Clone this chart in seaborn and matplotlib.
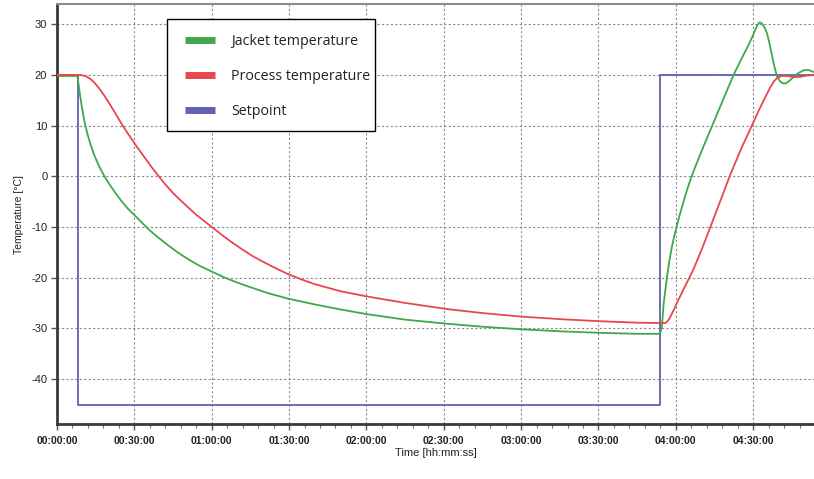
import numpy as np
import pandas as pd
import matplotlib
matplotlib.use("Agg")
import matplotlib.pyplot as plt
import seaborn as sns
from matplotlib.ticker import MultipleLocator, FuncFormatter
from matplotlib.patches import Rectangle

# Values (time in minutes, temperature in degC)
jacket_time = [0, 7.9, 8.2, 8.6, 9.0, 9.6, 10.3, 11, 12, 13, 14, 15, 16.5, 18.6, 20.5, 22.5,
               25, 27.5, 30.3, 33, 36, 39.3, 43, 47, 51, 55, 60, 65, 70, 75, 82, 90, 100,
               110, 120, 135, 151, 165, 180, 195, 210, 225, 233.9, 234.6, 235.3, 236.6,
               237.5, 238.5, 239.5, 240.5, 241.7, 243.0, 244.3, 245.6, 247.2, 249, 251,
               254.7, 258.5, 262.4, 265, 267.6, 269.5, 270.5, 271.3, 272, 272.6, 273.5,
               274.5, 275.4, 276.3, 277.3, 278.3, 279.2, 280.3, 281.5, 282.5, 283.5, 284.6,
               285.7, 287.6, 289.6, 291.3, 292.9, 294]
jacket_temp = [19.8, 19.8, 18.8, 17.2, 15.8, 13.8, 11.8, 10.0, 8.0, 6.3, 4.8, 3.5, 1.8, -0.2,
               -1.7, -3.2, -4.9, -6.4, -7.8, -9.2, -10.7, -12.1, -13.6, -15.1, -16.4, -17.6,
               -18.8, -20.0, -21.0, -21.9, -23.1, -24.2, -25.3, -26.3, -27.2, -28.3, -29.1,
               -29.7, -30.2, -30.6, -30.9, -31.1, -31.1, -29.7, -25.1, -19.8, -16.7, -13.9,
               -11.6, -9.6, -7.3, -5.0, -2.8, -0.8, 1.4, 3.7, 6.2, 10.7, 15.3, 20.0, 22.7,
               25.3, 27.3, 28.5, 29.5, 30.1, 30.4, 30.1, 29.3, 28.2, 26.3, 23.9, 21.5, 19.8,
               18.8, 18.35, 18.3, 18.6, 19.1, 19.6, 20.4, 20.9, 21.0, 20.7, 20.5]

process_time = [0, 8.9, 11, 13, 15, 17, 19, 21, 23, 25, 27, 29, 31, 33, 35, 37, 39.3, 42, 45,
                48, 51, 54, 57, 60, 64, 68, 72, 76, 80, 85, 90, 95, 100, 105, 110, 115, 120,
                128, 135, 143, 151, 165, 180, 195, 210, 225, 235.9, 237, 238, 239.2, 241,
                243.1, 245, 247, 250, 253.5, 257.4, 261.2, 265.5, 269.6, 272, 274.5, 276.7,
                278, 279.3, 281, 283.2, 285.5, 288, 291, 294]
process_temp = [20.0, 20.0, 19.8, 19.2, 18.2, 16.9, 15.4, 13.8, 12.1, 10.4, 8.8, 7.3, 5.8,
                4.4, 3.0, 1.6, 0.1, -1.6, -3.3, -4.8, -6.2, -7.6, -8.8, -10.0, -11.6, -13.1,
                -14.5, -15.8, -16.9, -18.2, -19.4, -20.4, -21.3, -22.0, -22.7, -23.2, -23.7,
                -24.4, -25.0, -25.6, -26.2, -27.0, -27.7, -28.2, -28.6, -28.9, -29.0, -28.5,
                -27.6, -26.4, -24.4, -22.2, -20.3, -18.2, -14.5, -9.9, -4.7, 0.4, 5.6, 10.1,
                12.8, 15.4, 17.6, 18.7, 19.4, 19.8, 19.8, 19.6, 19.6, 19.9, 20.0]

setpoint_time = [0, 8.0, 8.0, 233.9, 233.9, 294]
setpoint_temp = [20, 20, -45.1, -45.1, 20, 20]

x_ticks = [0, 30, 60, 90, 120, 150, 180, 210, 240, 270]
y_ticks = [-40, -30, -20, -10, 0, 10, 20, 30]

green = '#3fa84b'
red = '#e8474c'
blue = '#5f63ae'

sns.set_theme(style="white")
plt.rcParams['font.family'] = ['Liberation Sans', 'DejaVu Sans']
plt.rcParams['axes.unicode_minus'] = False

fig = plt.figure(figsize=(8.14, 4.79), dpi=100)
ax = fig.add_axes([57 / 814, 55 / 479, 757 / 814, 420 / 479])

sns.lineplot(x=jacket_time, y=jacket_temp, ax=ax, color=green, lw=1.3, sort=False,
             estimator=None, label='Jacket temperature', zorder=4)
sns.lineplot(x=process_time, y=process_temp, ax=ax, color=red, lw=1.3, sort=False,
             estimator=None, label='Process temperature', zorder=5)
sns.lineplot(x=setpoint_time, y=setpoint_temp, ax=ax, color=blue, lw=1.3, sort=False,
             estimator=None, label='Setpoint', zorder=3)

ax.set_xlim(0, 293.6)
ax.set_ylim(-48.9, 34.0)
ax.set_xticks(x_ticks)
ax.set_yticks(y_ticks)
ax.xaxis.set_minor_locator(MultipleLocator(6))


def hhmmss(v, pos):
    m = int(round(v))
    return f"{m // 60:02d}:{m % 60:02d}:00"


ax.xaxis.set_major_formatter(FuncFormatter(hhmmss))
for lab in ax.get_xticklabels():
    lab.set_fontweight('bold')
ax.tick_params(axis='x', which='major', length=4, width=1, color='#555', labelsize=7.5,
               labelcolor='#222', pad=5, bottom=True)
ax.tick_params(axis='x', which='minor', length=3, width=0.8, color='#777', bottom=True)
ax.tick_params(axis='y', length=4, width=1, color='#555', labelsize=8, labelcolor='#222',
               left=True, pad=3)

ax.grid(True, which='major', color='#8a8a8a', linestyle=(0, (2, 2)), linewidth=0.8)
ax.set_axisbelow(True)

for side in ['left', 'bottom']:
    ax.spines[side].set_color('#3a3a3a')
    ax.spines[side].set_linewidth(2)
ax.spines['top'].set_color('#8c8c8c')
ax.spines['top'].set_linewidth(1.5)
ax.spines['right'].set_visible(False)

ax.set_xlabel('Time [hh:mm:ss]', fontsize=8, color='#222', labelpad=1)
ax.set_ylabel('Temperature [°C]', fontsize=7.5, color='#222', labelpad=5)

# legend box drawn separately so the padding matches the original
frame = Rectangle((167 / 814, 1 - 131 / 479), 208 / 814, 112 / 479, transform=fig.transFigure,
                  facecolor='white', edgecolor='black', linewidth=1.0, zorder=8,
                  clip_on=False)
ax.add_artist(frame)
leg = ax.legend(loc='upper left', bbox_to_anchor=(185 / 814, 1 - 34 / 479),
                bbox_transform=fig.transFigure, borderaxespad=0, borderpad=0,
                frameon=False, handlelength=2.1, handletextpad=1.1, labelspacing=1.4,
                prop={'family': 'Open Sans', 'size': 10.3})
leg.set_zorder(10)
for line in leg.get_lines():
    line.set_linewidth(5)
    line.set_solid_capstyle('butt')
for t in leg.get_texts():
    t.set_color('#222')

plt.savefig('out.png', dpi=100)
